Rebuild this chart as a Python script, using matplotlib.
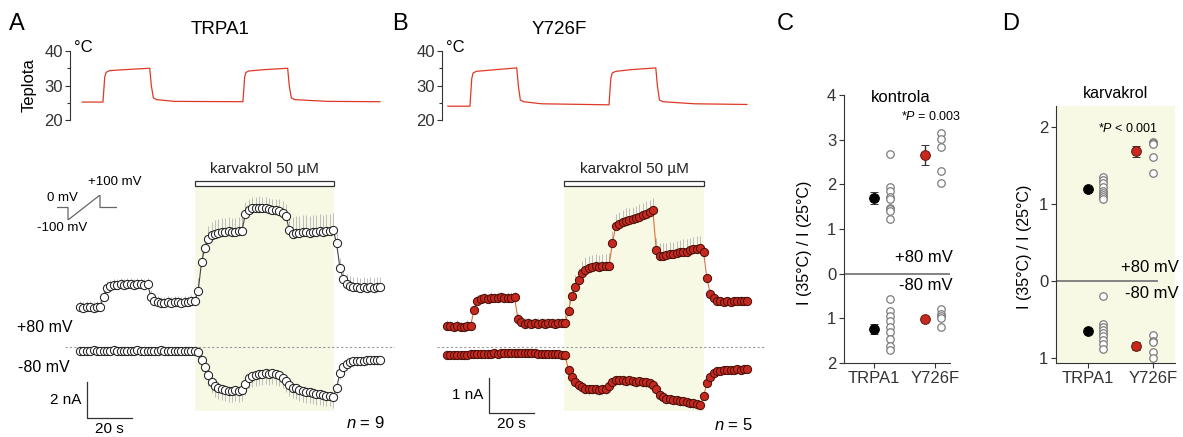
import numpy as np
import matplotlib.pyplot as plt
import matplotlib.transforms as mtransforms
from matplotlib.patches import Rectangle

plt.rcParams['font.family'] = ['Liberation Sans', 'DejaVu Sans']
plt.rcParams['mathtext.fontset'] = 'custom'
plt.rcParams['mathtext.rm'] = 'Liberation Sans'
plt.rcParams['mathtext.it'] = 'Liberation Sans:italic'

W, H = 1183, 437

# ---- Data ----
DT = 1.5  # sampling interval of current traces (s)

# temperature protocol (s, degC)
temp_t_a = [1.0, 10.2, 11.0, 11.6, 13.0, 20.0, 31.0, 31.7, 32.6, 34.0, 42.0, 72.4,
            73.2, 73.8, 75.0, 82.0, 92.3, 93.0, 93.9, 95.5, 110.0, 133.3]
temp_a = [25.2, 25.2, 32.5, 33.8, 34.3, 34.6, 35.0, 30.0, 26.4, 25.9, 25.4, 25.3,
          32.5, 33.8, 34.2, 34.6, 35.0, 30.0, 26.4, 25.9, 25.4, 25.3]
temp_t_b = [0.4, 10.2, 11.0, 11.6, 13.0, 20.0, 31.0, 31.7, 32.6, 34.0, 42.0, 72.0,
            72.8, 73.4, 75.0, 82.0, 92.8, 93.5, 94.4, 96.0, 110.0, 133.3]
temp_b = [24.0, 24.0, 32.0, 33.6, 34.1, 34.5, 35.1, 30.0, 25.8, 25.3, 24.7, 24.4,
          32.0, 33.6, 34.1, 34.6, 35.1, 30.0, 25.8, 25.3, 24.7, 24.5]

# carvacrol application (s)
kar_a = (51.0, 113.0)
kar_b = (52.0, 114.2)

# TRPA1 currents (nA), +80 mV and -80 mV
cur_a_pos = [2.2, 2.15, 2.2, 2.2, 2.15, 2.2, 2.25,
             2.8, 3.3,
             3.4, 3.45, 3.45, 3.5, 3.45, 3.5, 3.5, 3.45, 3.5, 3.5, 3.45, 3.5,
             2.8, 2.55,
             2.5, 2.45, 2.45, 2.5, 2.45, 2.5, 2.5, 2.45, 2.5, 2.5, 2.55, 2.55,
             3.1, 4.7, 5.5, 6.0, 6.2, 6.3,
             6.35, 6.4, 6.4, 6.45, 6.4, 6.4, 6.45, 6.45,
             7.4, 7.6,
             7.7, 7.7, 7.75, 7.7, 7.7, 7.65, 7.6, 7.6, 7.55, 7.45, 7.3,
             6.5,
             6.3, 6.35, 6.35, 6.4, 6.4, 6.35, 6.4, 6.4, 6.45, 6.4, 6.45, 6.45, 6.5,
             5.8, 4.4, 3.8, 3.5,
             3.4, 3.35, 3.35, 3.3, 3.35, 3.3, 3.35, 3.3, 3.35, 3.35]
cur_a_neg = [-0.2, -0.21, -0.2, -0.2, -0.19, -0.2, -0.2, -0.21, -0.2, -0.2, -0.19, -0.2,
             -0.2, -0.2, -0.21, -0.2, -0.2, -0.19, -0.2, -0.2, -0.2, -0.21, -0.2, -0.2,
             -0.19, -0.2, -0.2, -0.2, -0.21, -0.2, -0.2, -0.2, -0.2, -0.21, -0.2,
             -0.26, -0.72, -1.1, -1.55, -1.95, -2.15,
             -2.3, -2.35, -2.4, -2.45, -2.45, -2.4, -2.45, -2.4,
             -2.05, -1.7,
             -1.6, -1.55, -1.5, -1.5, -1.45, -1.5, -1.45, -1.5, -1.55, -1.7, -1.9,
             -2.1,
             -2.25, -2.3, -2.4, -2.45, -2.5, -2.5, -2.55, -2.6, -2.6, -2.65, -2.7, -2.7, -2.8,
             -2.3, -1.45, -1.1, -0.95,
             -0.85, -0.8, -0.75, -0.75, -0.75, -0.72, -0.72, -0.7, -0.7, -0.7]
sem_a_pos = [0.35] * 35 + [0.75] * 14 + [0.65] * 13 + [0.95] * 14 + [0.55] * 14
sem_a_neg = [0.05] * 35 + [0.6] * 41 + [0.3] * 14

# Y726F currents (nA)
cur_b_pos = [0.6, 0.58, 0.57, 0.6, 0.55, 0.57, 0.6,
             0.6, 1.05, 1.32,
             1.35, 1.38, 1.35, 1.4, 1.38, 1.4, 1.42, 1.38, 1.4, 1.4, 1.42,
             0.8, 0.7,
             0.66, 0.68, 0.65, 0.67, 0.66, 0.68, 0.66, 0.67, 0.68, 0.66, 0.67, 0.68, 0.67,
             1.03, 1.46, 1.71, 1.9, 2.1, 2.2,
             2.25, 2.28, 2.3, 2.28, 2.3, 2.3, 2.32,
             2.95, 3.45,
             3.5, 3.55, 3.6, 3.62, 3.65, 3.68, 3.72, 3.75, 3.8, 3.85, 3.9,
             2.76, 2.6,
             2.6, 2.62, 2.65, 2.65, 2.68, 2.7, 2.72, 2.72, 2.75, 2.78, 2.8, 2.82,
             2.72, 1.95, 1.52, 1.38,
             1.32, 1.3, 1.28, 1.3, 1.28, 1.3, 1.3, 1.32, 1.3, 1.32]
cur_b_neg = [-0.25, -0.25, -0.24, -0.24, -0.23, -0.24, -0.23, -0.22, -0.22, -0.21, -0.22, -0.21,
             -0.2, -0.2, -0.19, -0.2, -0.19, -0.18, -0.18, -0.17, -0.18, -0.17, -0.18, -0.18,
             -0.19, -0.18, -0.19, -0.2, -0.2, -0.21, -0.2, -0.21, -0.22, -0.22, -0.23, -0.24,
             -0.67, -0.86, -1.0, -1.09, -1.15,
             -1.2, -1.22, -1.2, -1.22, -1.24, -1.22, -1.2,
             -1.12, -1.0, -0.95,
             -0.95, -0.96, -0.98, -0.95, -0.98, -1.0, -0.98, -1.0, -1.02, -1.05,
             -1.1, -1.2, -1.38,
             -1.45, -1.48, -1.5, -1.52, -1.52, -1.55, -1.55, -1.58, -1.6, -1.62, -1.65, -1.67,
             -1.42, -1.05, -0.86, -0.75,
             -0.7, -0.68, -0.67, -0.67, -0.66, -0.66, -0.65, -0.66, -0.65, -0.65]
sem_b_pos = [0.15] * 35 + [0.35] * 41 + [0.12] * 14
sem_b_neg = [0.05] * 35 + [0.15] * 41 + [0.1] * 14

# ratio I(35C)/I(25C), panels C (kontrola) and D (karvakrol)
groups = ['TRPA1', 'Y726F']
c_pos_trpa1 = [2.68, 1.93, 1.86, 1.72, 1.68, 1.48, 1.45, 1.41, 1.22]
c_pos_y726f = [3.16, 3.01, 2.83, 2.29, 2.02]
c_neg_trpa1 = [0.57, 0.83, 0.94, 1.05, 1.19, 1.31, 1.46, 1.61, 1.71]
c_neg_y726f = [0.78, 0.90, 0.95, 1.00, 1.20]
c_mean_pos = [1.70, 2.65]
c_sem_pos = [0.13, 0.22]
c_mean_neg = [1.24, 1.01]
c_sem_neg = [0.12, 0.04]

d_pos_trpa1 = [1.35, 1.31, 1.27, 1.23, 1.17, 1.14, 1.12, 1.10, 1.07]
d_pos_y726f = [1.81, 1.80, 1.79, 1.62, 1.41]
d_neg_trpa1 = [0.20, 0.56, 0.60, 0.64, 0.68, 0.72, 0.77, 0.82, 0.89]
d_neg_y726f = [0.70, 0.78, 0.80, 0.93, 1.00]
d_mean_pos = [1.20, 1.69]
d_sem_pos = [0.02, 0.07]
d_mean_neg = [0.65, 0.85]
d_sem_neg = [0.04, 0.05]

# voltage ramp protocol (ms, mV)
ramp_t = [0, 55, 55, 215, 215, 300]
ramp_v = [0, 0, -100, 100, 0, 0]

# ---- Layout helpers (pixels of the 1183x437 canvas) ----
INK = '#333333'
SHADE = '#f8f9e4'
RED = '#c8281e'


def box(x0, y0, x1, y1):
    return [x0 / W, 1 - y1 / H, (x1 - x0) / W, (y1 - y0) / H]


def ftext(px, py, s, **kw):
    fig.text(px / W, 1 - py / H, s, **kw)


def temp_axes(x0, x1, t_zero_px, t, temp):
    ax = fig.add_axes(box(x0, 51, x1, 120))
    ax.plot(t, temp, color='#dc3a26', lw=0.9)
    ax.set_xlim((x0 - t_zero_px) / 2.25, (x1 - t_zero_px) / 2.25)
    ax.set_ylim(20, 40)
    for s in ['top', 'right', 'bottom']:
        ax.spines[s].set_visible(False)
    ax.spines['left'].set_color(INK)
    ax.spines['left'].set_linewidth(0.8)
    ax.set_xticks([])
    ax.set_yticks([20, 30, 40])
    ax.set_yticks([25, 35], minor=True)
    ax.tick_params(axis='y', which='major', length=3.5, width=0.8, colors=INK,
                   labelsize=12, pad=1.5)
    ax.tick_params(axis='y', which='minor', length=2.5, width=0.8, colors=INK)
    ax.patch.set_alpha(0)
    return ax


def trace_axes(x0, x1, t_zero_px, zero_py, px_per_na, kar, pos, neg, sem_pos, sem_neg,
               face, edge, line):
    ax = fig.add_axes(box(x0, 150, x1, 425))
    ax.set_xlim((x0 - t_zero_px) / 2.25, (x1 - t_zero_px) / 2.25)
    ax.set_ylim(-(425 - zero_py) / px_per_na, (zero_py - 150) / px_per_na)
    ax.axis('off')
    ax.axvspan(kar[0], kar[1], ymin=0.05, ymax=0.869, color=SHADE, lw=0, zorder=0)
    trans = mtransforms.blended_transform_factory(ax.transData, ax.transAxes)
    ax.add_patch(Rectangle((kar[0], 0.869), kar[1] - kar[0], 0.017, transform=trans,
                           fc='white', ec=INK, lw=0.9, zorder=4))
    ax.text((kar[0] + kar[1]) / 2, 0.905, 'karvakrol 50 µM', transform=trans,
            ha='center', va='bottom', fontsize=11, color='#222')
    ax.axhline(0, xmin=0.015, color='#9a9a9a', lw=0.8, ls=(0, (2, 2)), zorder=1)
    for vals, sem, up in [(pos, sem_pos, True), (neg, sem_neg, False)]:
        t = np.arange(len(vals)) * DT
        v = np.array(vals)
        s = np.array(sem)
        if up:
            ax.vlines(t, v, v + s, color='#bdbdbd', lw=0.7, zorder=1)
        else:
            ax.vlines(t, v - s, v, color='#bdbdbd', lw=0.7, zorder=1)
        ax.plot(t, v, '-', color=line, lw=0.8, zorder=2)
        ax.plot(t, v, 'o', ms=5.9, mfc=face, mec=edge, mew=0.75, zorder=3)
    return ax


def scale_bar(ax, x0, y0, dy, ylab):
    ax.plot([x0, x0, x0 + 20], [y0 + dy, y0, y0], color=INK, lw=0.9, clip_on=False)
    ax.text(x0 - 2.5, y0 + dy / 2, ylab, ha='right', va='center', fontsize=11)
    ax.text(x0 + 10, y0, '20 s', ha='center', va='top', fontsize=11,
            transform=ax.transData + mtransforms.ScaledTranslation(0, -3 / 72, fig.dpi_scale_trans))


def ratio_axes(bx, ylim, xlim, yticks, yticklabels, mean_off, ind_off,
               pos_ind, neg_ind, mean_pos, sem_pos, mean_neg, sem_neg, zero_xmax, bg):
    ax = fig.add_axes(box(*bx))
    ax.set_facecolor(bg)
    ax.set_xlim(*xlim)
    ax.set_ylim(*ylim)
    for s in ['top', 'right']:
        ax.spines[s].set_visible(False)
    for s in ['left', 'bottom']:
        ax.spines[s].set_color(INK)
        ax.spines[s].set_linewidth(0.8)
    ax.axhline(0, xmax=zero_xmax, color='#7a7a7a', lw=1.3, zorder=1)
    ax.set_yticks(yticks)
    ax.set_yticklabels(yticklabels)
    ax.set_xticks(range(len(groups)))
    ax.set_xticklabels(groups)
    ax.tick_params(length=3.5, width=0.8, colors=INK, labelsize=12, pad=2)
    for i in range(len(groups)):
        for vals, sign in [(pos_ind[i], 1), (neg_ind[i], -1)]:
            v = sign * np.array(vals)
            ax.plot(np.full(len(v), i + ind_off[i]), v, 'o', ms=5.4, mfc='white',
                    mec='#7d7d7d', mew=0.9, zorder=3)
        face = 'black' if i == 0 else RED
        edge = 'black' if i == 0 else '#5a1a10'
        ax.errorbar([i + mean_off[i]] * 2, [mean_pos[i], -mean_neg[i]],
                    yerr=[sem_pos[i], sem_neg[i]], fmt='o', ms=7, mfc=face, mec=edge,
                    mew=0.7, ecolor=INK, elinewidth=1, capsize=3, capthick=1, zorder=4)
    return ax


fig = plt.figure(figsize=(W / 100, H / 100), dpi=100)

# ---- Panel A ----
temp_axes(70, 395, 80, temp_t_a, temp_a)
axA = trace_axes(60, 395, 80, 347, 18, kar_a, cur_a_pos, cur_a_neg, sem_a_pos, sem_a_neg,
                 'white', '#222222', '#444444')
scale_bar(axA, 3.1, -3.94, 2, '2 nA')
ftext(385, 423, '$n$ = 9', ha='right', va='center', fontsize=12)
ftext(17, 327, '+80 mV', ha='left', va='center', fontsize=11.5)
ftext(18, 368, '-80 mV', ha='left', va='center', fontsize=11.5)

# voltage protocol inset
axP = fig.add_axes(box(57, 195, 117, 220))
axP.plot(ramp_t, ramp_v, color='#666666', lw=0.9)
axP.set_xlim(0, 300)
axP.set_ylim(-100, 100)
axP.axis('off')
ftext(88, 182, '+100 mV', ha='left', va='center', fontsize=9.5)
ftext(78, 198, '0 mV', ha='right', va='center', fontsize=9.5)
ftext(37, 228, '-100 mV', ha='left', va='center', fontsize=9.5)

# ---- Panel B ----
temp_axes(442, 765, 447, temp_t_b, temp_b)
axB = trace_axes(432, 765, 447, 346.7, 35, kar_b, cur_b_pos, cur_b_neg, sem_b_pos, sem_b_neg,
                 RED, '#4a120c', '#e0703c')
scale_bar(axB, 18.7, -1.894, 1, '1 nA')
ftext(753, 425, '$n$ = 5', ha='right', va='center', fontsize=12)

# temperature axis labels, titles, panel letters
ftext(29, 85, 'Teplota', rotation=90, ha='center', va='center', fontsize=12)
ftext(74, 47, '°C', ha='left', va='center', fontsize=12)
ftext(446, 47, '°C', ha='left', va='center', fontsize=12)
ftext(220, 30, 'TRPA1', ha='center', va='center', fontsize=13.5)
ftext(559, 30, 'Y726F', ha='center', va='center', fontsize=13.5)
for letter, px in [('A', 9), ('B', 392), ('C', 777), ('D', 1002)]:
    ftext(px, 24, letter, ha='left', va='center', fontsize=17)

# ---- Panel C ----
ratio_axes((844, 95, 950, 363), (-2, 4), (-0.49, 1.25), [4, 3, 2, 1, 0, -1, -2],
           ['4', '3', '2', '1', '0', '1', '2'], [0, -0.16], [0.26, 0.1],
           [c_pos_trpa1, c_pos_y726f], [c_neg_trpa1, c_neg_y726f],
           c_mean_pos, c_sem_pos, c_mean_neg, c_sem_neg, 1.0, 'white')
ftext(901, 97, 'kontrola', ha='center', va='center', fontsize=12)
ftext(931, 117, '*$P$ = 0.003', ha='center', va='center', fontsize=9)
ftext(953, 258, '+80 mV', ha='right', va='center', fontsize=12)
ftext(953, 285, '-80 mV', ha='right', va='center', fontsize=12)
ftext(805, 243, 'I (35°C) / I (25°C)', rotation=90, ha='center', va='center', fontsize=11.5)

# ---- Panel D ----
ratio_axes((1056, 106, 1175, 363), (-1.07, 2.28), (-0.49, 1.34), [2, 1, 0, -1],
           ['2', '1', '0', '1'], [0, -0.26], [0.23, 0.0],
           [d_pos_trpa1, d_pos_y726f], [d_neg_trpa1, d_neg_y726f],
           d_mean_pos, d_sem_pos, d_mean_neg, d_sem_neg, 0.85, SHADE)
ftext(1116, 93, 'karvakrol', ha='center', va='center', fontsize=11.5)
ftext(1128, 128, '*$P$ < 0.001', ha='center', va='center', fontsize=9)
ftext(1179, 268, '+80 mV', ha='right', va='center', fontsize=12)
ftext(1179, 293, '-80 mV', ha='right', va='center', fontsize=12)
ftext(1025, 247, 'I (35°C) / I (25°C)', rotation=90, ha='center', va='center', fontsize=11.5)

fig.savefig('out.png', dpi=100)
